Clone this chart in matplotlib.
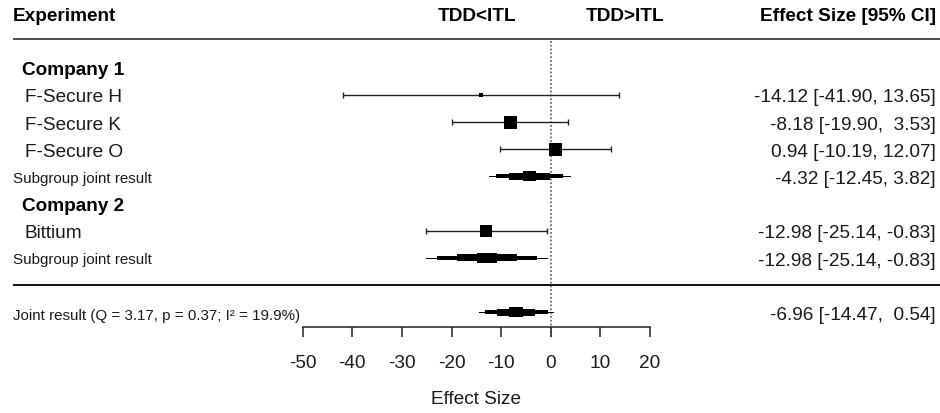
import matplotlib
matplotlib.use("Agg")
import matplotlib.pyplot as plt

# ---------------- data ----------------
groups = ["Company 1", "Company 2"]
experiments = ["F-Secure H", "F-Secure K", "F-Secure O", "Bittium"]
exp_group = [0, 0, 0, 1]
exp_est = [-14.12, -8.18, 0.94, -12.98]
exp_lo = [-41.90, -19.90, -10.19, -25.14]
exp_hi = [13.65, 3.53, 12.07, -0.83]

sub_est = [-4.32, -12.98]
sub_lo = [-12.45, -25.14]
sub_hi = [3.82, -0.83]
# stepped confidence bands (outer -> inner)
sub_bands = [
    [(-12.45, 3.82), (-11.04, 2.47), (-8.37, -0.20), (-5.68, -3.01)],
    [(-25.14, -0.83), (-22.95, -2.87), (-18.94, -6.89), (-14.92, -10.78)],
]
joint_est = -6.96
joint_lo = -14.47
joint_hi = 0.54
joint_bands = [(-14.47, 0.54), (-13.25, -0.54), (-10.90, -3.20), (-8.37, -5.56)]
joint_label = "Joint result (Q = 3.17, p = 0.37; I² = 19.9%)"

xticks = [-50, -40, -30, -20, -10, 0, 10, 20]

# ---------------- layout ----------------
W, H = 940, 414
ROW0, ROWPX = 95.5, 27.2          # pixel y of first study row, pixels per row
X0, XPX = 550.8, 4.961            # pixel x of effect 0, pixels per unit


def ry(px):
    return (px - ROW0) / ROWPX


def vx(px):
    return (px - X0) / XPX


plt.rcParams["font.family"] = ["Liberation Sans", "DejaVu Sans"]

fig = plt.figure(figsize=(W / 100, H / 100), dpi=100)
ax = fig.add_axes([0, 0, 1, 1])
ax.set_xlim(vx(0), vx(W))
ax.set_ylim(ry(H), ry(0))
for s in ["top", "left", "right"]:
    ax.spines[s].set_visible(False)
ax.set_yticks([])

TXT = "#1a1a1a"
FS = 13.7
FS_SMALL = 10.9
pxpt = 0.72
bar_col = "black"
CAP = 0.716  # cap height / em


def off(fs):
    # rows from cap-centre to baseline
    return (fs / 0.72) * CAP / 2 / ROWPX


def label(x, y, s, fs=FS, ha="left", **kw):
    ax.text(x, y + off(fs), s, ha=ha, va="baseline", fontsize=fs,
            color=kw.pop("color", TXT), **kw)


# axis
ax.spines["bottom"].set_position(("data", ry(327.7)))
ax.spines["bottom"].set_bounds(xticks[0], xticks[-1])
ax.spines["bottom"].set_linewidth(1.1)
ax.spines["bottom"].set_color("#222222")
ax.set_xticks(xticks)
ax.set_xticklabels([str(t) for t in xticks])
ax.tick_params(axis="x", direction="out", length=10 * pxpt, width=1.1,
               color="#222222", pad=12.5, labelsize=FS, labelcolor=TXT)
label((xticks[0] + xticks[-1]) / 2, ry(396.7), "Effect Size", ha="center")

# headers
hy = ry(13.7)
label(vx(13), hy, "Experiment", fontweight="bold", color="black")
label(vx(477), hy, "TDD<ITL", ha="center", fontweight="bold", color="black")
label(vx(625), hy, "TDD>ITL", ha="center", fontweight="bold", color="black")
label(vx(936), hy, "Effect Size [95% CI]", ha="right", fontweight="bold",
      color="black")

# separator lines
ax.plot([vx(13), vx(W)], [ry(40.3)] * 2, color="#4d4d4d", lw=1.4,
        solid_capstyle="butt")
ax.plot([vx(13), vx(W)], [ry(286)] * 2, color="black", lw=1.3,
        solid_capstyle="butt")

# null line
ax.plot([0, 0], [ry(41.5), ry(338.3)], color="#555555", lw=1.1,
        linestyle=(0, (1.2, 1.3)), zorder=1)

band_px = [1.0, 4.0, 7.0, 10.0]
marker_px = [4.0, 13.0, 13.0, 12.0]


def draw_bands(row, bands):
    lo0, hi0 = bands[0]
    ax.plot([lo0, hi0], [row, row], color=bar_col, lw=1.0 * pxpt, zorder=3)
    for (lo, hi), t in zip(bands[1:], band_px[1:]):
        ax.barh(row, hi - lo, left=lo, height=t / ROWPX, color=bar_col,
                edgecolor="none", zorder=3)


def fmt(e, l, h, pad=True):
    if pad:
        return f"{e:.2f} [{l:.2f}, {h:5.2f}]"
    return f"{e:.2f} [{l:.2f}, {h:.2f}]"


row = -1
xl = vx(22)
xs = vx(25)
xsub = vx(13)
xr = vx(936)
for g, gname in enumerate(groups):
    label(xl, row, gname, fontweight="bold", color="black")
    row += 1
    for i, name in enumerate(experiments):
        if exp_group[i] != g:
            continue
        label(xs, row, name)
        ax.errorbar([exp_est[i]], [row],
                    xerr=[[exp_est[i] - exp_lo[i]], [exp_hi[i] - exp_est[i]]],
                    fmt="none", ecolor="#222222", elinewidth=1.0,
                    capsize=2.0, capthick=1.0, zorder=3)
        ax.plot([exp_est[i]], [row], marker="s", color="black",
                markersize=marker_px[i] * pxpt, markeredgewidth=0, zorder=4)
        label(xr, row, fmt(exp_est[i], exp_lo[i], exp_hi[i]), ha="right")
        row += 1
    label(xsub, row, "Subgroup joint result", fs=FS_SMALL)
    draw_bands(row, sub_bands[g])
    label(xr, row, fmt(sub_est[g], sub_lo[g], sub_hi[g], pad=(g == 1)),
          ha="right")
    row += 1

row += 1
label(xsub, row + 0.05, joint_label, fs=FS_SMALL)
draw_bands(row, joint_bands)
label(xr, row, fmt(joint_est, joint_lo, joint_hi), ha="right")

fig.savefig("out.png", dpi=100, facecolor="white")
